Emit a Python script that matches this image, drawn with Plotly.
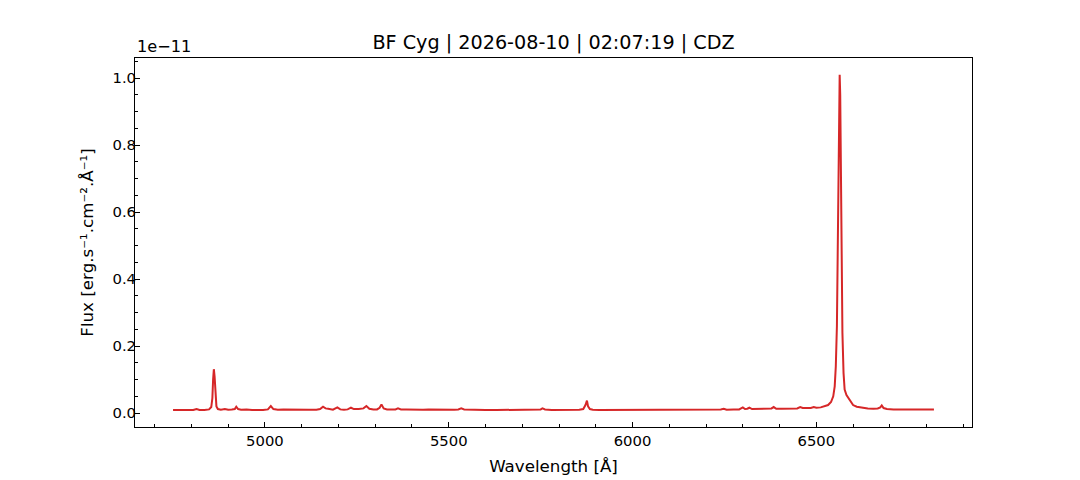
import plotly.graph_objects as go

# Wavelength [Å]
wavelength = [
    4750, 4765, 4780, 4795, 4805, 4814, 4822, 4835, 4848, 4854, 4857, 4859, 4861, 4863, 4865, 4868,
    4872, 4880, 4891, 4900, 4910, 4918, 4922, 4927, 4935, 4950, 4965, 4980, 4995, 5008, 5016, 5023,
    5035, 5050, 5065, 5080, 5100, 5120, 5140, 5150, 5158, 5165, 5172, 5185, 5197, 5205, 5215, 5225,
    5234, 5242, 5255, 5268, 5276, 5284, 5295, 5305, 5312, 5317, 5323, 5332, 5345, 5355, 5362, 5370,
    5385, 5400, 5415, 5430, 5445, 5460, 5480, 5500, 5515, 5526, 5534, 5542, 5560, 5580, 5600, 5630,
    5660, 5690, 5720, 5740, 5750, 5755, 5762, 5780, 5800, 5820, 5840, 5855, 5866, 5872, 5876, 5879,
    5884, 5892, 5910, 5930, 5950, 5975, 5995, 6010, 6030, 6050, 6075, 6100, 6125, 6150, 6175, 6200,
    6225, 6240, 6248, 6256, 6275, 6290, 6300, 6306, 6312, 6318, 6325, 6340, 6348, 6356, 6370, 6378,
    6384, 6391, 6405, 6420, 6438, 6448, 6456, 6463, 6475, 6485, 6493, 6500, 6512, 6522, 6532, 6540,
    6546, 6550, 6553, 6556, 6558, 6560, 6562, 6563.5, 6565, 6567, 6569, 6571, 6574, 6577, 6582, 6588,
    6594, 6600, 6610, 6625, 6640, 6655, 6667, 6674, 6678, 6683, 6692, 6710, 6730, 6750, 6770, 6790,
    6805, 6820,
]

# Flux in units of 1e-11 erg/s/cm^2/Å
flux_e11 = [
    0.009, 0.009, 0.0085, 0.009, 0.009, 0.012, 0.009, 0.0095, 0.011, 0.018, 0.045, 0.100, 0.131, 0.110, 0.055, 0.020,
    0.012, 0.010, 0.012, 0.010, 0.0105, 0.012, 0.019, 0.012, 0.010, 0.011, 0.0095, 0.009, 0.009, 0.011, 0.021, 0.012,
    0.010, 0.0105, 0.010, 0.0095, 0.0095, 0.010, 0.010, 0.012, 0.019, 0.014, 0.013, 0.010, 0.017, 0.011, 0.010, 0.011,
    0.016, 0.012, 0.012, 0.014, 0.021, 0.013, 0.011, 0.011, 0.016, 0.026, 0.014, 0.011, 0.011, 0.011, 0.014, 0.011,
    0.011, 0.010, 0.011, 0.010, 0.0105, 0.010, 0.0095, 0.0095, 0.010, 0.011, 0.014, 0.011, 0.010, 0.0095, 0.009, 0.009,
    0.009, 0.0095, 0.009, 0.0095, 0.011, 0.014, 0.011, 0.0095, 0.0095, 0.009, 0.009, 0.010, 0.012, 0.024, 0.037, 0.020,
    0.012, 0.010, 0.009, 0.009, 0.0095, 0.010, 0.010, 0.0105, 0.010, 0.0105, 0.010, 0.010, 0.0105, 0.010, 0.0095, 0.0095,
    0.010, 0.011, 0.013, 0.010, 0.011, 0.011, 0.017, 0.012, 0.013, 0.016, 0.012, 0.012, 0.014, 0.012, 0.013, 0.014,
    0.018, 0.013, 0.013, 0.013, 0.014, 0.014, 0.018, 0.015, 0.015, 0.015, 0.018, 0.016, 0.017, 0.020, 0.024, 0.033,
    0.050, 0.080, 0.140, 0.260, 0.480, 0.780, 0.960, 1.010, 0.950, 0.720, 0.440, 0.240, 0.120, 0.070, 0.054, 0.043,
    0.032, 0.024, 0.019, 0.016, 0.014, 0.013, 0.014, 0.017, 0.023, 0.015, 0.012, 0.011, 0.011, 0.0105, 0.011, 0.011,
    0.011, 0.011,
]

title_text = "BF Cyg | 2026-08-10 | 02:07:19 | CDZ"
x_label = "Wavelength [Å]"
y_label = "Flux [erg.s⁻¹.cm⁻².Å⁻¹]"
scale_label = "1e−11"

FONT = "DejaVu Sans"

xmin, xmax = min(wavelength), max(wavelength)
ymin, ymax = min(flux_e11), max(flux_e11)
xpad = 0.05 * (xmax - xmin)
ypad = 0.05 * (ymax - ymin)

fig = go.Figure()
fig.add_trace(go.Scatter(
    x=wavelength, y=flux_e11, mode="lines",
    line=dict(color="#d62728", width=2),
    hoverinfo="x+y", showlegend=False,
))

axis_common = dict(
    showgrid=False, zeroline=False,
    showline=True, linecolor="black", linewidth=1, mirror=True,
    ticks="inside", ticklen=5, tickwidth=1, tickcolor="black",
    tickfont=dict(family=FONT, size=14.8, color="black"),
)

fig.update_layout(
    width=1080, height=480,
    margin=dict(l=127, r=116, t=50, b=61),
    paper_bgcolor="white", plot_bgcolor="white",
    font=dict(family=FONT, color="black"),
    title=dict(text=title_text, x=0.5, xref="paper", y=0.928, yanchor="middle",
               font=dict(family=FONT, size=19.2, color="black")),
    xaxis=dict(
        range=[xmin - xpad, xmax + xpad],
        tickmode="array", tickvals=[5000, 5500, 6000, 6500],
        ticktext=["5000", "5500", "6000", "6500"],
        minor=dict(ticks="inside", ticklen=3, tickcolor="black", dtick=100, tick0=0, showgrid=False),
        title=dict(text=x_label, font=dict(family=FONT, size=16.7, color="black"), standoff=12),
        **axis_common,
    ),
    yaxis=dict(
        range=[ymin - ypad, ymax + ypad],
        tickmode="array", tickvals=[0.0, 0.2, 0.4, 0.6, 0.8, 1.0],
        ticktext=["0.0", "0.2", "0.4", "0.6", "0.8", "1.0"],
        minor=dict(ticks="inside", ticklen=3, tickcolor="black", dtick=0.05, tick0=0, showgrid=False),
        title=dict(text=y_label, font=dict(family=FONT, size=16.7, color="black"), standoff=14),
        ticklabelstandoff=-5,
        **axis_common,
    ),
    annotations=[dict(
        text=scale_label, xref="paper", yref="paper", x=0, y=1.0,
        xanchor="left", yanchor="bottom", showarrow=False, yshift=0,
        font=dict(family=FONT, size=16.2, color="black"),
    )],
)

fig.write_html("out.html")
